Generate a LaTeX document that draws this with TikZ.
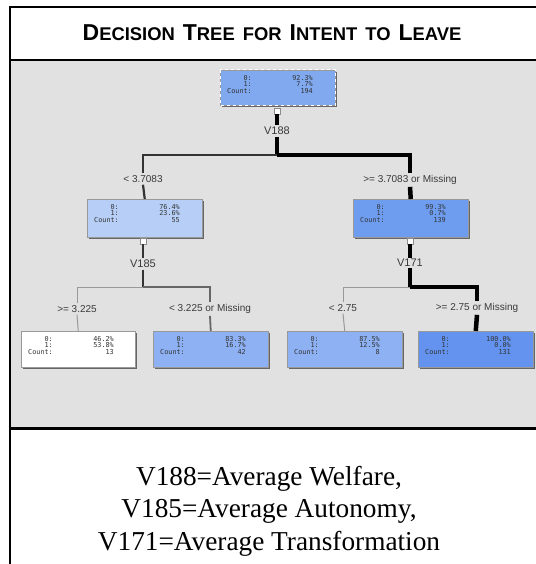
\documentclass[tikz,border=0pt]{standalone}
\usepackage{fontspec}
\setmainfont{Liberation Serif}
\setsansfont{Liberation Sans}
\newfontfamily\statfont{DejaVu Sans Mono}
\usetikzlibrary{calc,shadows}

\definecolor{panelgray}{HTML}{E1E1E1}
\definecolor{rootblue}{HTML}{80A9F0}
\definecolor{paleblue}{HTML}{B7CFF6}
\definecolor{midblue}{HTML}{6E9DF0}
\definecolor{leafblue}{HTML}{8DB1F3}
\definecolor{deepblue}{HTML}{6393EE}
\definecolor{labelgray}{HTML}{3A3A3A}

% caps-and-small-caps word for the heading
\newcommand\capword[2]{{\fontsize{23}{23}\selectfont #1}{\fontsize{18.4}{19}\selectfont #2}}
\newcommand\titlegap{\hspace{8pt}}

% class shares and count printed inside a tree node
\newcommand\nodestats[4]{%
  \node[statlabel] (#1-l0) at ($(#1.north west)+(32,8)$) {0:};
  \node[statlabel] (#1-l1) at ($(#1.north west)+(32,14.5)$) {1:};
  \node[statlabel] (#1-lc) at ($(#1.north west)+(32,21)$) {Count:};
  \node[statlabel] (#1-v0) at ($(#1.north west)+(93,8)$) {#2};
  \node[statlabel] (#1-v1) at ($(#1.north west)+(93,14.5)$) {#3};
  \node[statlabel] (#1-vc) at ($(#1.north west)+(93,21)$) {#4};
}

\begin{document}
\begin{tikzpicture}[x=1pt,y=-1pt,
  treenode/.style={draw=black!40, line width=0.5pt, inner sep=0pt,
    minimum width=115pt, minimum height=36pt, anchor=north west,
    drop shadow={shadow xshift=1.6pt, shadow yshift=-1.6pt, fill=black!60, opacity=1}},
  statlabel/.style={anchor=east, inner sep=0pt, text=black!80,
    font=\statfont\fontsize{6.8}{7}\selectfont},
  port/.style={draw=black!45, fill=white, line width=0.6pt, inner sep=0pt,
    minimum width=6pt, minimum height=6pt},
  splitlabel/.style={inner sep=1.5pt, text=labelgray, font=\sffamily\fontsize{11}{12}\selectfont},
  edgelabel/.style={inner sep=2pt, text=labelgray, font=\sffamily\fontsize{10}{11}\selectfont},
  heavyedge/.style={draw=black, line width=4.5pt},
  mainedge/.style={draw=black!80, line width=2.2pt},
  midedge/.style={draw=black!60, line width=1.8pt},
  lightedge/.style={draw=black!40, line width=1pt},
]
\useasboundingbox (0,0) rectangle (535,564);

% panels and frame
\fill[panelgray] (11,61) rectangle (545,428);
\fill[white] (11,8) rectangle (545,59);
\draw[line width=2pt] (10,570) -- (10,7) -- (545,7);
\draw[line width=2.5pt] (10,60) -- (545,60);
\draw[line width=3pt] (10,428) -- (545,428);

% heading
\node[font=\sffamily\bfseries] (title) at (272,33)
  {\capword{D}{ECISION}\titlegap\capword{T}{REE}\titlegap\capword{}{FOR}\titlegap
   \capword{I}{NTENT}\titlegap\capword{}{TO}\titlegap\capword{L}{EAVE}};

% tree nodes
\node[treenode, fill=rootblue, minimum height=35pt] (root) at (220,70) {};
\draw[white, dashed, line width=1pt] (root.north west) rectangle (root.south east);
\node[treenode, fill=paleblue, minimum height=38pt] (nl) at (87,199) {};
\node[treenode, fill=midblue, minimum height=38pt] (nr) at (353,199) {};
\node[treenode, fill=white, minimum width=114pt] (nll) at (21,331) {};
\node[treenode, fill=leafblue] (nlr) at (153,331) {};
\node[treenode, fill=leafblue] (nrl) at (287,331) {};
\node[treenode, fill=deepblue] (nrr) at (418,331) {};

\nodestats{root}{92.3\%}{7.7\%}{194}
\nodestats{nl}{76.4\%}{23.6\%}{55}
\nodestats{nr}{99.3\%}{0.7\%}{139}
\nodestats{nll}{46.2\%}{53.8\%}{13}
\nodestats{nlr}{83.3\%}{16.7\%}{42}
\nodestats{nrl}{87.5\%}{12.5\%}{8}
\nodestats{nrr}{100.0\%}{0.0\%}{131}

% split ports
\node[port] (rootport) at (277,111) {};
\node[port] (nlport) at (143,241) {};
\node[port] (nrport) at (410,241) {};

% split variables and branch labels
\node[splitlabel] (v188) at (277,131) {V188};
\node[splitlabel] (v185) at (143,264) {V185};
\node[splitlabel] (v171) at (410,263) {V171};
\node[edgelabel] (bl) at (143,179) {< 3.7083};
\node[edgelabel] (br) at (410,180) {>= 3.7083 or Missing};
\node[edgelabel] (bll) at (77,309) {>= 3.225};
\node[edgelabel] (blr) at (210,309) {< 3.225 or Missing};
\node[edgelabel] (brl) at (343,308) {< 2.75};
\node[edgelabel] (brr) at (477,308) {>= 2.75 or Missing};

\coordinate (j1) at (277,155);
\coordinate (j2) at (143,287);
\coordinate (j3) at (410,287);

% first split
\draw[heavyedge] (rootport.south) -- (v188.north);
\draw[heavyedge] (v188.south) -- (j1);
\draw[mainedge] (j1) -| (bl.north);
\draw[heavyedge] (j1) -| (br.north);
\draw[mainedge] (bl.south) -- (nl.north);
\draw[heavyedge] (br.south) -- (nr.north);

% second split, left
\draw[mainedge] (nlport.south) -- (v185.north);
\draw[mainedge] (v185.south) -- (j2);
\draw[lightedge] (j2) -| (bll.north);
\draw[midedge] (j2) -| (blr.north);
\draw[lightedge] (bll.south) -- (nll.north);
\draw[midedge] (blr.south) -- (nlr.north);

% second split, right
\draw[heavyedge] (nrport.south) -- (v171.north);
\draw[heavyedge] (v171.south) -- (j3);
\draw[lightedge] (j3) -| (brl.north);
\draw[heavyedge] (j3) -| (brr.north);
\draw[lightedge] (brl.south) -- (nrl.north);
\draw[heavyedge] (brr.south) -- (nrr.north);

% legend
\node[align=center, font=\fontsize{27.3}{32.5}\selectfont] (legend) at (269,511)
  {V188=Average Welfare,\\V185=Average Autonomy,\\V171=Average Transformation};
\end{tikzpicture}
\end{document}
